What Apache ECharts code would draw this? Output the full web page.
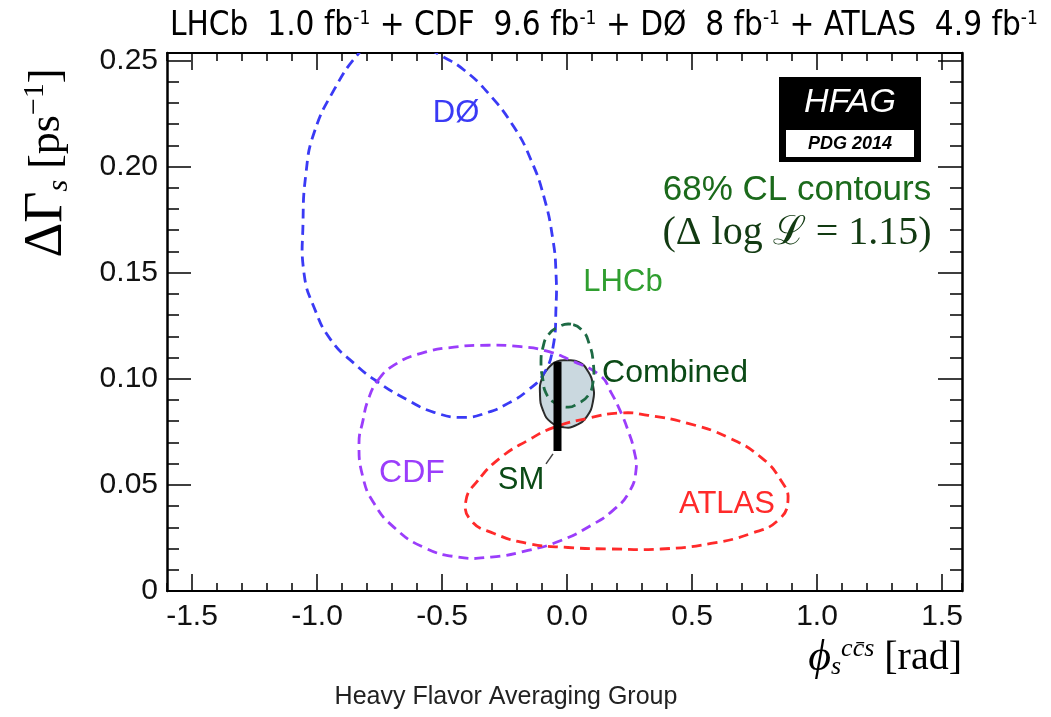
<!DOCTYPE html>
<html>
<head>
<meta charset="utf-8">
<script src="https://cdn.jsdelivr.net/npm/echarts@6/dist/echarts.min.js"></script>
<style>
html,body{margin:0;padding:0;background:#fff;}
#chart{width:1051px;height:717px;}
</style>
</head>
<body>
<div id="chart"></div>
<script>
// ---------- axis ranges and tick labels ----------
const xRange = [-1.6, 1.58];
const yRange = [0, 0.2535];
const xMajorTicks = [-1.5, -1.0, -0.5, 0.0, 0.5, 1.0, 1.5];
const yMajorTicks = [0, 0.05, 0.10, 0.15, 0.20, 0.25];

// ---------- 68% CL contours [phi_s, DeltaGamma_s] ----------
const d0Contour = [
  [-0.664,0.262],[-0.496,0.2517],[-0.412,0.2455],[-0.316,0.2347],[-0.212,0.2186],
  [-0.144,0.2031],[-0.092,0.1856],[-0.056,0.1653],[-0.044,0.1498],[-0.044,0.1337],
  [-0.056,0.1149],[-0.092,0.1026],[-0.156,0.0946],[-0.236,0.0884],[-0.316,0.0842],
  [-0.412,0.0818],[-0.532,0.0842],[-0.636,0.0899],[-0.756,0.0984],[-0.852,0.1073],
  [-0.944,0.1182],[-1.012,0.1337],[-1.052,0.1498],[-1.056,0.1733],[-1.044,0.1969],
  [-1.012,0.2158],[-0.932,0.2361],[-0.832,0.2535],[-0.764,0.2597]
];
const cdfContour = [
  [-0.756,0.0993],[-0.692,0.1064],[-0.584,0.1120],[-0.452,0.1149],[-0.316,0.1158],
  [-0.184,0.1151],[-0.092,0.1134],[0.016,0.1087],[0.136,0.1012],[0.176,0.0936],
  [0.212,0.0851],[0.244,0.0757],[0.268,0.0663],[0.276,0.0568],[0.248,0.0465],
  [0.184,0.0380],[0.096,0.0309],[-0.024,0.0238],[-0.156,0.0191],[-0.304,0.0160],
  [-0.436,0.0160],[-0.572,0.0205],[-0.692,0.0300],[-0.772,0.0413],[-0.816,0.0535],
  [-0.832,0.0696],[-0.816,0.0804],[-0.796,0.0899]
];
const atlasContour = [
  [-0.356,0.0521],[-0.404,0.0427],[-0.384,0.0333],[-0.292,0.0271],[-0.156,0.0224],
  [0.004,0.0205],[0.176,0.0198],[0.376,0.0198],[0.576,0.0224],[0.736,0.0271],
  [0.844,0.0333],[0.884,0.0427],[0.856,0.0521],[0.776,0.0630],[0.644,0.0724],
  [0.484,0.0790],[0.324,0.0828],[0.216,0.0839],[0.084,0.0814],[-0.052,0.0771],
  [-0.156,0.0710],[-0.264,0.0630]
];
const lhcbContour = [
  [0.016,0.1257],[-0.036,0.1243],[-0.076,0.1205],[-0.096,0.1149],[-0.104,0.1073],
  [-0.096,0.0993],[-0.084,0.0932],[-0.052,0.0889],[0.004,0.0866],[0.044,0.0884],
  [0.084,0.0920],[0.104,0.0983],[0.104,0.1087],[0.088,0.1167],[0.064,0.1224]
];
const combinedContour = [
  [-0.004,0.1087],[0.048,0.1078],[0.084,0.1035],[0.104,0.0969],[0.104,0.0894],
  [0.080,0.0823],[0.036,0.0781],[-0.012,0.0771],[-0.064,0.0795],[-0.096,0.0851],
  [-0.108,0.0927],[-0.100,0.1002],[-0.068,0.1059],[-0.040,0.1082]
];
// Standard Model prediction (vertical band)
const smBand = [[-0.038,0.066],[-0.038,0.108]];
const smLeader = [[-0.056,0.0646],[-0.084,0.0599]];

// ---------- helpers ----------
function contourSeries(name, pts, stroke, fill, dashed, z) {
  return {
    type: 'custom', name: name, coordinateSystem: 'cartesian2d',
    xAxisIndex: 0, yAxisIndex: 0, clip: true, z: z, silent: true,
    data: pts,
    renderItem: function (params, api) {
      if (params.dataIndex !== 0) return null;
      return {
        type: 'polygon',
        shape: { points: pts.map(function (p) { return api.coord(p); }), smooth: 0.5 },
        style: {
          fill: fill || 'none', stroke: stroke,
          lineWidth: dashed ? 2.8 : 2,
          lineDash: dashed ? [10, 6] : null
        }
      };
    }
  };
}

const tickFont = { fontFamily: 'Liberation Sans, Arial, sans-serif', fontSize: 30, color: '#111' };
function xAxisDef(pos, major) {
  const a = {
    type: 'value', position: pos, min: xRange[0], max: xRange[1],
    splitLine: { show: false },
    axisLine: { show: major ? false : true, onZero: false, lineStyle: { color: '#000', width: 2 } },
    axisTick: { show: true, inside: true, length: major ? 17 : 8, lineStyle: { color: '#000', width: 1.5 } },
    axisLabel: { show: false }
  };
  if (major) {
    a.axisTick.customValues = xMajorTicks;
    if (pos === 'bottom') {
      a.axisLabel = Object.assign({ show: true, margin: 11, customValues: xMajorTicks,
        formatter: function (v) { return v.toFixed(1); } }, tickFont);
    }
  } else {
    a.interval = 0.1;
  }
  return a;
}
function yAxisDef(pos, major) {
  const a = {
    type: 'value', position: pos, min: yRange[0], max: yRange[1],
    splitLine: { show: false },
    axisLine: { show: major ? false : true, onZero: false, lineStyle: { color: '#000', width: 2.5 } },
    axisTick: { show: true, inside: true, length: major ? 24 : 12, lineStyle: { color: '#000', width: 1.5 } },
    axisLabel: { show: false }
  };
  if (major) {
    a.axisTick.customValues = yMajorTicks;
    if (pos === 'left') {
      a.axisLabel = Object.assign({ show: true, margin: 9, customValues: yMajorTicks,
        formatter: function (v) { return v === 0 ? '0' : v.toFixed(2); } }, tickFont);
    }
  } else {
    a.interval = 0.01;
  }
  return a;
}

const sans = 'Liberation Sans, Arial, sans-serif';
const serif = 'Liberation Serif, DejaVu Serif, serif';

const option = {
  backgroundColor: '#fff',
  animation: false,
  grid: { left: 167, right: 89, top: 53, bottom: 126, containLabel: false },
  xAxis: [xAxisDef('bottom', false), xAxisDef('bottom', true), xAxisDef('top', false), xAxisDef('top', true)],
  yAxis: [yAxisDef('left', false), yAxisDef('left', true), yAxisDef('right', false), yAxisDef('right', true)],
  series: [
    contourSeries('Combined', combinedContour, '#2b2b2b', '#cad8df', false, 2),
    contourSeries('DØ', d0Contour, '#3a3af5', null, true, 3),
    contourSeries('CDF', cdfContour, '#9b3dfb', null, true, 3),
    contourSeries('ATLAS', atlasContour, '#ff2a2a', null, true, 3),
    contourSeries('LHCb', lhcbContour, '#1d6a44', null, true, 4),
    { type: 'line', name: 'SM', data: smBand, xAxisIndex: 0, yAxisIndex: 0, symbol: 'none', z: 6,
      lineStyle: { color: '#000', width: 8, cap: 'butt' }, silent: true },
    { type: 'line', name: 'SM leader', data: smLeader, xAxisIndex: 0, yAxisIndex: 0, symbol: 'none', z: 6,
      lineStyle: { color: '#444', width: 1.5 }, silent: true }
  ],
  graphic: [
    // title
    { type: 'text', left: 170, top: 10, z: 10,
      style: { text: 'LHCb  1.0 fb{sup|-1} + CDF  9.6 fb{sup|-1} + DØ  8 fb{sup|-1} + ATLAS  4.9 fb{sup|-1}',
        fontFamily: 'Liberation Sans Narrow, DejaVu Sans Condensed, ' + sans, fontSize: 33, fill: '#000',
        rich: { sup: { fontSize: 19, verticalAlign: 'top', fontFamily: 'Liberation Sans Narrow, DejaVu Sans Condensed, ' + sans } } } },
    // y axis title (rotated)
    { type: 'text', x: 47, y: 163, rotation: Math.PI / 2, z: 10,
      style: { text: '{g|ΔΓ}{sub|s}{b| [ps}{sup|−1}{b|]}', align: 'center', verticalAlign: 'middle', fill: '#000',
        rich: {
          g: { fontFamily: serif, fontSize: 54, fill: '#000' },
          sub: { fontFamily: serif, fontStyle: 'italic', fontSize: 30, verticalAlign: 'bottom', fill: '#000' },
          b: { fontFamily: serif, fontSize: 44, fill: '#000' },
          sup: { fontFamily: serif, fontSize: 30, verticalAlign: 'top', fill: '#000' }
        } } },
    // x axis title
    { type: 'text', right: 89, top: 636, z: 10,
      style: { text: '{p|ϕ}{sub|s}{sup|cc̄s}{b| [rad]}', fill: '#000',
        rich: {
          p: { fontFamily: serif, fontStyle: 'italic', fontSize: 44, fill: '#000' },
          sub: { fontFamily: serif, fontStyle: 'italic', fontSize: 26, verticalAlign: 'bottom', fill: '#000' },
          sup: { fontFamily: serif, fontStyle: 'italic', fontSize: 26, verticalAlign: 'top', fill: '#000' },
          b: { fontFamily: serif, fontSize: 40, fill: '#000' }
        } } },
    // footer
    { type: 'text', x: 506, y: 697, z: 10,
      style: { text: 'Heavy Flavor Averaging Group', fontFamily: sans, fontSize: 25, fill: '#222', align: 'center', verticalAlign: 'middle' } },
    // contour labels
    { type: 'text', x: 456, y: 113, z: 10, style: { text: 'DØ', fontFamily: sans, fontSize: 31, fill: '#3a3af5', align: 'center', verticalAlign: 'middle' } },
    { type: 'text', x: 412, y: 473, z: 10, style: { text: 'CDF', fontFamily: sans, fontSize: 32, fill: '#9b3dfb', align: 'center', verticalAlign: 'middle' } },
    { type: 'text', x: 521, y: 480, z: 10, style: { text: 'SM', fontFamily: sans, fontSize: 31, fill: '#0b4a16', align: 'center', verticalAlign: 'middle' } },
    { type: 'text', x: 727, y: 504, z: 10, style: { text: 'ATLAS', fontFamily: sans, fontSize: 31, fill: '#ff2a2a', align: 'center', verticalAlign: 'middle' } },
    { type: 'text', x: 623, y: 282, z: 10, style: { text: 'LHCb', fontFamily: sans, fontSize: 31, fill: '#2f9e2f', align: 'center', verticalAlign: 'middle' } },
    { type: 'text', x: 675, y: 373, z: 10, style: { text: 'Combined', fontFamily: sans, fontSize: 32, fill: '#0b4a16', align: 'center', verticalAlign: 'middle' } },
    { type: 'text', x: 797, y: 190, z: 10, style: { text: '68% CL contours', fontFamily: sans, fontSize: 35, fill: '#1b6a1b', align: 'center', verticalAlign: 'middle' } },
    { type: 'text', x: 797, y: 233, z: 10, style: { text: '(Δ log ℒ = 1.15)', fontFamily: serif, fontSize: 40, fill: '#123a12', align: 'center', verticalAlign: 'middle' } },
    // HFAG logo
    { type: 'rect', shape: { x: 779, y: 77, width: 142, height: 85 }, style: { fill: '#000' }, z: 10 },
    { type: 'text', x: 850, y: 103, z: 11, style: { text: 'HFAG', fontFamily: sans, fontStyle: 'italic', fontSize: 34, fill: '#fff', align: 'center', verticalAlign: 'middle' } },
    { type: 'rect', shape: { x: 786, y: 130, width: 128, height: 27 }, style: { fill: '#fff' }, z: 11 },
    { type: 'text', x: 850, y: 144, z: 12, style: { text: 'PDG 2014', fontFamily: sans, fontStyle: 'italic', fontWeight: 'bold', fontSize: 18, fill: '#000', align: 'center', verticalAlign: 'middle' } }
  ]
};

const chart = echarts.init(document.getElementById('chart'), null, { renderer: 'canvas' });
chart.setOption(option);
</script>
</body>
</html>
